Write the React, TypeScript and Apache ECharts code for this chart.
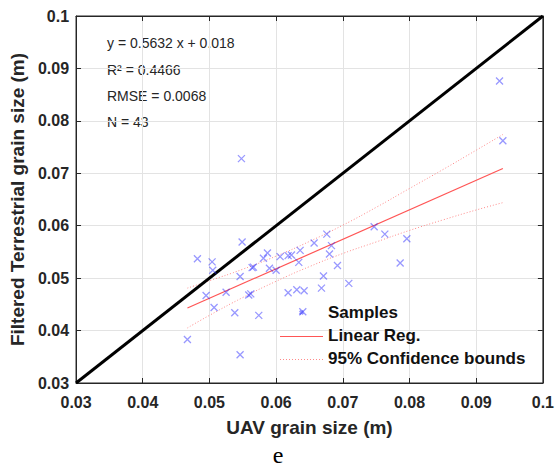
import React, { useEffect, useRef } from "react";
import * as echarts from "echarts";

const uavX = [
  0.0548, 0.0482, 0.0504, 0.0505, 0.0549, 0.0546, 0.0495, 0.0507, 0.0525, 0.0467,
  0.0538, 0.0546, 0.0559, 0.0562, 0.0574, 0.0564, 0.0566, 0.0581, 0.0587, 0.0590,
  0.0600, 0.0606, 0.0618, 0.0623, 0.0636, 0.0634, 0.0618, 0.0631, 0.0642, 0.0640,
  0.0657, 0.0676, 0.0683, 0.0680, 0.0692, 0.0671, 0.0668, 0.0709, 0.0747, 0.0763,
  0.0796, 0.0786, 0.0940, 0.0935,
];
const terrY = [
  0.0728, 0.0537, 0.0531, 0.0515, 0.0569, 0.0503, 0.0467, 0.0444, 0.0473, 0.0383,
  0.0434, 0.0354, 0.0468, 0.0470, 0.0429, 0.0520, 0.0521, 0.0538, 0.0548, 0.0519,
  0.0515, 0.0541, 0.0543, 0.0544, 0.0553, 0.0530, 0.0472, 0.0478, 0.0476, 0.0436,
  0.0567, 0.0584, 0.0562, 0.0546, 0.0524, 0.0504, 0.0481, 0.0490, 0.0598, 0.0584,
  0.0575, 0.0529, 0.0762, 0.0876,
];
const regX = [0.0467, 0.094];
const regY = [0.0443, 0.0709];
const ciX = [0.0467, 0.05, 0.055, 0.06, 0.065, 0.07, 0.075, 0.08, 0.085, 0.09, 0.094];
const ciUpper = [0.0481, 0.0495, 0.0517, 0.0542, 0.057, 0.0601, 0.0635, 0.0671, 0.0707, 0.0744, 0.0774];
const ciLower = [0.0405, 0.0429, 0.0463, 0.0494, 0.0522, 0.0547, 0.0569, 0.0591, 0.0611, 0.063, 0.0644];
const identity = [0.03, 0.1];
const statLines = ["y = 0.5632 x + 0.018", "R² = 0.4466", "RMSE = 0.0068", "N = 43"];
const legendNames = ["Samples", "Linear Reg.", "95% Confidence bounds"];
const axisMin = 0.03;
const axisMax = 0.1;
const axisStep = 0.01;

const FONT = '"Liberation Sans", Arial, Helvetica, sans-serif';
const CROSS = "path://M0,0L10,10M10,0L0,10";
const REG_COLOR = "#ff5555";
const CI_COLOR = "#ff8a8a";
const fmt = (v: number) => String(parseFloat(v.toFixed(2)));

export default function App() {
  const ref = useRef<HTMLDivElement>(null);
  useEffect(() => {
    document.body.style.margin = "0";
    const chart = echarts.init(ref.current!, null, { renderer: "svg" });
    const baseAxis = {
      type: "value" as const,
      min: axisMin,
      max: axisMax,
      interval: axisStep,
      axisLine: { show: true, lineStyle: { color: "#262626", width: 1 } },
      axisTick: { show: true, inside: true, length: 5, lineStyle: { color: "#262626" } },
    };
    const legendTop = 304;
    const rowH = 17;
    const rowGap = 6;
    const rowCenter = (i: number) => Math.round(legendTop + i * (rowH + rowGap) + rowH / 2) + 0.5;
    chart.setOption({
      animation: false,
      backgroundColor: "#ffffff",
      grid: {
        left: 73,
        right: 14,
        top: 16,
        bottom: 85,
        show: true,
        borderColor: "#262626",
        borderWidth: 1,
      },
      xAxis: [
        {
          ...baseAxis,
          position: "bottom",
          name: "UAV grain size (m)",
          nameLocation: "middle",
          nameGap: 35,
          nameTextStyle: { fontFamily: FONT, fontWeight: "bold", fontSize: 19, color: "#262626" },
          axisLabel: {
            formatter: fmt,
            fontFamily: FONT,
            fontWeight: "bold",
            fontSize: 16,
            color: "#262626",
            margin: 11,
          },
          splitLine: { show: true, lineStyle: { color: "#e3e3e3", width: 1 } },
        },
        {
          ...baseAxis,
          position: "top",
          axisLabel: { show: false },
          splitLine: { show: false },
        },
      ],
      yAxis: [
        {
          ...baseAxis,
          position: "left",
          name: "Filtered Terrestrial grain size (m)",
          nameLocation: "middle",
          nameGap: 45,
          nameTextStyle: { fontFamily: FONT, fontWeight: "bold", fontSize: 19, color: "#262626" },
          axisLabel: {
            formatter: fmt,
            fontFamily: FONT,
            fontWeight: "bold",
            fontSize: 16,
            color: "#262626",
            margin: 7,
          },
          splitLine: { show: true, lineStyle: { color: "#e3e3e3", width: 1 } },
        },
        {
          ...baseAxis,
          position: "right",
          axisLabel: { show: false },
          splitLine: { show: false },
        },
      ],
      legend: {
        orient: "vertical",
        left: 280,
        top: legendTop,
        padding: 0,
        itemWidth: 43,
        itemHeight: 12,
        itemGap: rowGap,
        selectedMode: false,
        textStyle: { fontFamily: FONT, fontWeight: "bold", fontSize: 17, color: "#111", lineHeight: rowH },
        data: [
          { name: legendNames[0], icon: "path://M0,0M20,20M7,7L13,13M13,7L7,13" },
          { name: legendNames[1], icon: "none" },
          { name: legendNames[2], icon: "none" },
        ],
      },
      series: [
        {
          name: "identity",
          type: "line",
          data: identity.map((v) => [v, v]),
          showSymbol: false,
          lineStyle: { color: "#000", width: 3 },
          z: 3,
          silent: true,
        },
        {
          name: legendNames[0],
          type: "scatter",
          data: uavX.map((x, i) => [x, terrY[i]]),
          symbol: CROSS,
          symbolSize: 7,
          itemStyle: { color: "transparent", borderColor: "rgba(40,40,255,0.6)", borderWidth: 1.3 },
          z: 4,
        },
        {
          name: legendNames[1],
          type: "line",
          data: regX.map((x, i) => [x, regY[i]]),
          showSymbol: false,
          symbol: "none",
          lineStyle: { color: REG_COLOR, width: 1.2 },
          itemStyle: { color: REG_COLOR },
          z: 2,
        },
        {
          name: legendNames[2],
          type: "line",
          data: ciX.map((x, i) => [x, ciUpper[i]]),
          showSymbol: false,
          symbol: "none",
          smooth: true,
          lineStyle: { color: CI_COLOR, width: 1, type: [1, 2] },
          itemStyle: { color: CI_COLOR },
          z: 2,
        },
        {
          name: legendNames[2],
          type: "line",
          data: ciX.map((x, i) => [x, ciLower[i]]),
          showSymbol: false,
          symbol: "none",
          smooth: true,
          lineStyle: { color: CI_COLOR, width: 1, type: [1, 2] },
          itemStyle: { color: CI_COLOR },
          z: 2,
        },
      ],
      graphic: [
        ...statLines.map((t, i) => ({
          type: "text",
          x: 107,
          y: [43, 70, 96, 122][i],
          style: {
            text: t,
            fill: "#262626",
            font: `14px ${FONT}`,
            verticalAlign: "middle",
          },
        })),
        {
          type: "line",
          shape: { x1: 280, y1: rowCenter(1), x2: 323, y2: rowCenter(1) },
          style: { stroke: REG_COLOR, lineWidth: 1.2 },
          z: 100,
        },
        {
          type: "line",
          shape: { x1: 280, y1: rowCenter(2), x2: 323, y2: rowCenter(2) },
          style: { stroke: CI_COLOR, lineWidth: 1, lineDash: [1, 2] },
          z: 100,
        },
        {
          type: "text",
          x: 278,
          y: 455,
          style: {
            text: "e",
            fill: "#000",
            font: '24px "Liberation Serif", "Times New Roman", serif',
            align: "center",
            verticalAlign: "middle",
          },
        },
      ],
    });
    return () => chart.dispose();
  }, []);
  return (
    <div
      ref={ref}
      style={{ position: "absolute", left: 0, top: 0, width: 557, height: 468 }}
    />
  );
}
